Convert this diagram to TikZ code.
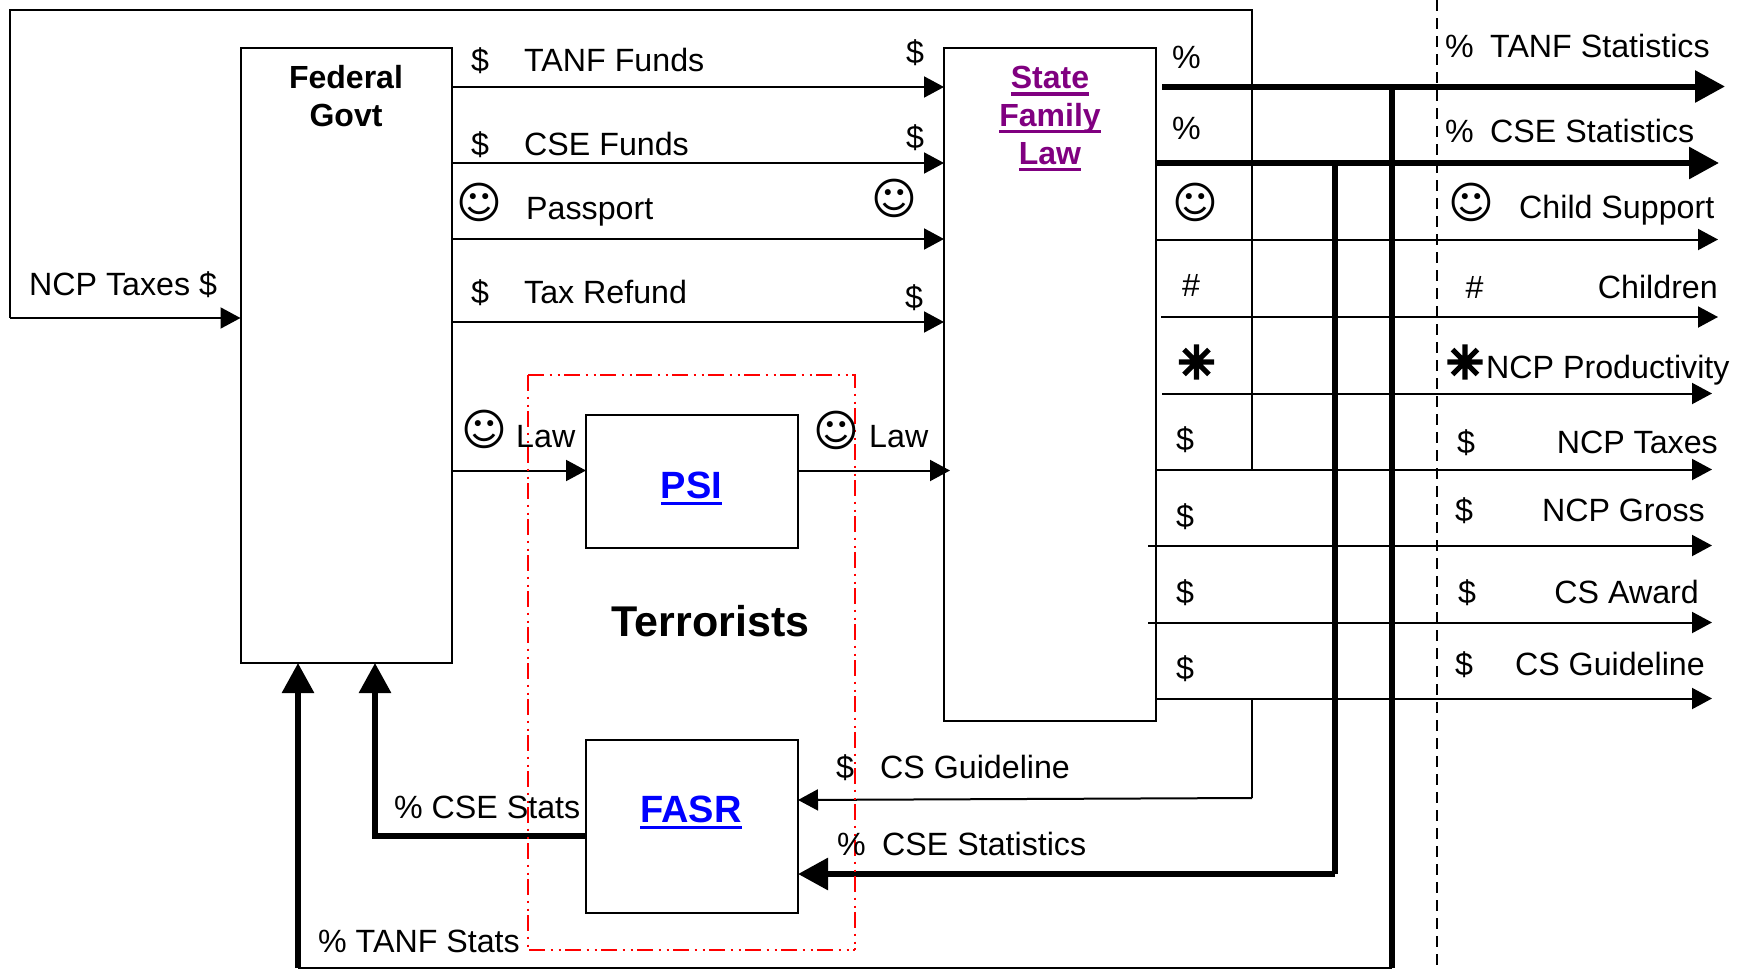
\documentclass[tikz,border=0pt]{standalone}
\usepackage{fontspec}
\setmainfont{Liberation Sans}
\newfontfamily\symfont{DejaVu Sans}
\newfontfamily\starfont[FakeBold=7]{DejaVu Sans}
\usetikzlibrary{arrows.meta}
\definecolor{lawpurple}{HTML}{800080}
\definecolor{linkblue}{HTML}{0000FF}
\newcommand\ulbold[1]{\leavevmode\setbox0\hbox{#1}\dp0=0pt\vtop{\box0\kern3.5pt\hrule height 3.5pt}}
\tikzset{
  boxn/.style={draw=black,line width=2pt,rectangle,inner sep=0pt,outer sep=0pt,anchor=north west},
  conn/.style={draw=black,line width=2pt},
  connarrow/.style={conn,-{Triangle[length=20pt,width=21pt]}},
  heavy/.style={draw=black,line width=6pt},
  heavyarrow/.style={heavy,-{Triangle[length=30pt,width=31pt]}},
  lab/.style={anchor=base west,inner sep=0pt,yshift=-1pt,font=\fontsize{32.2}{36}\selectfont},
  labr/.style={anchor=base east,inner sep=0pt,yshift=-1pt,font=\fontsize{32.2}{36}\selectfont},
  labc/.style={anchor=base,inner sep=0pt,font=\fontsize{32}{36}\selectfont\bfseries},
  smile/.style={anchor=center,inner sep=0pt,font=\fontsize{44}{48}\symfont},
  star/.style={anchor=center,inner sep=0pt,font=\fontsize{44}{50}\starfont},
  redbox/.style={draw=red,line width=2.5pt,dash pattern=on 16pt off 5.5pt on 2.5pt off 5.5pt on 2.5pt off 4pt}
}
\begin{document}
\begin{tikzpicture}[x=1pt,y=-1pt]
\useasboundingbox (0,0) rectangle (1738,969);
% boxes
\node[boxn,minimum width=211.5pt,minimum height=615pt] (fed) at (240.5,48) {};
\node[boxn,minimum width=212pt,minimum height=673pt] (state) at (944,48) {};
\node[boxn,minimum width=212pt,minimum height=133.5pt] (psi) at (586,414.5) {};
\node[boxn,minimum width=212pt,minimum height=172.5pt] (fasr) at (586,740) {};
% named rows and free ends
\coordinate (r1) at (0,87);
\coordinate (r2) at (0,163);
\coordinate (r3) at (0,239);
\coordinate (r4) at (0,322);
\coordinate (rlaw) at (0,470.5);
\coordinate (s1) at (1162,86.5);  \coordinate (e1) at (1725,86.5);
\coordinate (e2) at (1719,163);
\coordinate (e3) at (1718,239.5);
\coordinate (s4) at (1161,317);   \coordinate (e4) at (1718,317);
\coordinate (s5) at (1162,393.5); \coordinate (e5) at (1712,393.5);
\coordinate (e6) at (1712,469.5);
\coordinate (s7) at (1148,545.5); \coordinate (e7) at (1712,545.5);
\coordinate (s8) at (1148,622.5); \coordinate (e8) at (1712,622.5);
\coordinate (e9) at (1712,698.5);
\coordinate (j6) at (1252,469.5);
\coordinate (topL) at (10,10);
\coordinate (cornerL) at (10,318);
\coordinate (fedin) at (240.5,318);
\coordinate (j9) at (1252,698.5);
\coordinate (jg) at (1252,798);
\coordinate (fg) at (798,800);
\coordinate (fc) at (798,874);
\coordinate (v1t) at (1335,163);
\coordinate (v1b) at (1335,874);
\coordinate (v2t) at (1392,86.5);
\coordinate (v2b) at (1392,968);
\coordinate (bL) at (298,968);
\coordinate (fedb1) at (298,663);
\coordinate (fedb2) at (375,663);
\coordinate (cs1) at (375,836);
\coordinate (fs) at (586,836);
\coordinate (dt) at (1437,0);
\coordinate (db) at (1437,969);
\coordinate (rtl) at (528,375);
\coordinate (rbr) at (855,950);
% federal to state
\draw[connarrow] (r1 -| fed.east) -- (r1 -| state.west);
\draw[connarrow] (r2 -| fed.east) -- (r2 -| state.west);
\draw[connarrow] (r3 -| fed.east) -- (r3 -| state.west);
\draw[connarrow] (r4 -| fed.east) -- (r4 -| state.west);
% law
\draw[connarrow] (rlaw -| fed.east) -- (rlaw -| psi.west);
\draw[connarrow] (rlaw -| psi.east) -- ([xshift=6pt]rlaw -| state.west);
% NCP taxes loop
\draw[conn,line join=miter] (j6) -- (j6 |- topL) -- (topL) -- (cornerL);
\draw[connarrow] (cornerL) -- (fedin);
% right outputs
\draw[connarrow] (state.east |- e3) -- (e3);
\draw[connarrow] (s4) -- (e4);
\draw[connarrow] (s5) -- (e5);
\draw[connarrow] (state.east |- e6) -- (e6);
\draw[connarrow] (s7) -- (e7);
\draw[connarrow] (s8) -- (e8);
\draw[connarrow] (state.east |- e9) -- (e9);
% guideline to FASR
\draw[conn] (j9) -- (jg);
\draw[connarrow] (jg) -- (fg);
% TANF stats bottom line
\draw[conn] (v2b) -- (bL);
% heavy lines
\draw[heavyarrow] (s1) -- (e1);
\draw[heavyarrow] (state.east |- e2) -- (e2);
\draw[heavy] (v2t) -- (v2b);
\draw[heavy,line join=miter] (v1t) -- (v1b);
\draw[heavyarrow] (v1b) -- (fc);
\draw[heavyarrow] (bL) -- (fedb1);
\draw[heavyarrow] (fs) -- (cs1) -- (fedb2);
% red and dashed frames
\draw[redbox] (rtl) -- (rtl -| rbr) -- (rbr);
\draw[redbox] (rtl) -- (rtl |- rbr) -- (rbr);
\draw[draw=black,line width=2pt,dash pattern=on 11pt off 7pt] (dt) -- (db);
% titles
\node[labc] (tf1) at (346,88.5) {Federal};
\node[labc] (tf2) at (346,126) {Govt};
\node[labc,text=lawpurple] (ts1) at (1050,88.5) {\ulbold{State}};
\node[labc,text=lawpurple] (ts2) at (1050,126) {\ulbold{Family}};
\node[labc,text=lawpurple] (ts3) at (1050,164) {\ulbold{Law}};
\node[labc,text=linkblue,font=\fontsize{38}{40}\selectfont\bfseries] (tpsi) at (691.5,498) {\ulbold{PSI}};
\node[labc,text=linkblue,font=\fontsize{38}{40}\selectfont\bfseries] (tfasr) at (691,822) {\ulbold{FASR}};
\node[labc,font=\fontsize{43}{46}\selectfont\bfseries] (tterr) at (710.5,636.5) {Terrorists};
% left
\node[lab] (l0) at (29,294.5) {NCP Taxes \$};
% federal-state labels
\node[lab] (a1) at (471,70.5) {\$};
\node[lab] (a2) at (524,70.5) {TANF Funds};
\node[lab] (a3) at (906,62.5) {\$};
\node[lab] (b1) at (471,154.5) {\$};
\node[lab] (b2) at (524,154.5) {CSE Funds};
\node[lab] (b3) at (906,147.5) {\$};
\node[smile] (c1) at (479,202.5) {☺};
\node[lab] (c2) at (526,218) {Passport};
\node[smile] (c3) at (894,198.5) {☺};
\node[lab] (d1) at (471,302.5) {\$};
\node[lab] (d2) at (524,302.5) {Tax Refund};
\node[lab] (d3) at (905,307.5) {\$};
\node[smile] (e1s) at (484,429) {☺};
\node[lab] (e2s) at (516,446) {Law};
\node[smile] (e3s) at (836.5,430) {☺};
\node[lab] (e4s) at (869,446) {Law};
% state column
\node[lab] (p1) at (1172,67) {\%};
\node[lab] (p2) at (1172,138) {\%};
\node[smile] (p3) at (1195,202.5) {☺};
\node[lab] (p4) at (1182,295.5) {\#};
\node[star] (p5) at (1196.5,362) {✳};
\node[lab] (p6) at (1176,449) {\$};
\node[lab] (p7) at (1176,526.5) {\$};
\node[lab] (p8) at (1176,602.5) {\$};
\node[lab] (p9) at (1176,678.5) {\$};
% output column
\node[lab] (q1) at (1445,56) {\%};
\node[lab] (q1b) at (1490,56) {TANF Statistics};
\node[lab] (q2) at (1445,141) {\%};
\node[lab] (q2b) at (1490,141) {CSE Statistics};
\node[smile] (q3) at (1471,202.5) {☺};
\node[lab] (q3b) at (1519,217.5) {Child Support};
\node[lab] (q4) at (1465.5,297.5) {\#};
\node[labr] (q4b) at (1718,297.5) {Children};
\node[star] (q5) at (1465,362) {✳};
\node[lab] (q5b) at (1486,377.5) {NCP Productivity};
\node[lab] (q6) at (1457,452) {\$};
\node[labr] (q6b) at (1718,452) {NCP Taxes};
\node[lab] (q7) at (1455,520.5) {\$};
\node[labr] (q7b) at (1705,520.5) {NCP Gross};
\node[lab] (q8) at (1458,602) {\$};
\node[labr] (q8b) at (1699,602) {CS Award};
\node[lab] (q9) at (1455,674.5) {\$};
\node[labr] (q9b) at (1705,674.5) {CS Guideline};
% lower labels
\node[lab] (g1) at (836,777.5) {\$};
\node[lab] (g2) at (880,777.5) {CS Guideline};
\node[lab] (h1) at (837,854.5) {\%};
\node[lab] (h2) at (882,854.5) {CSE Statistics};
\node[lab] (i1) at (394,817) {\% CSE Stats};
\node[lab] (i2) at (318,951) {\% TANF Stats};
\end{tikzpicture}
\end{document}
